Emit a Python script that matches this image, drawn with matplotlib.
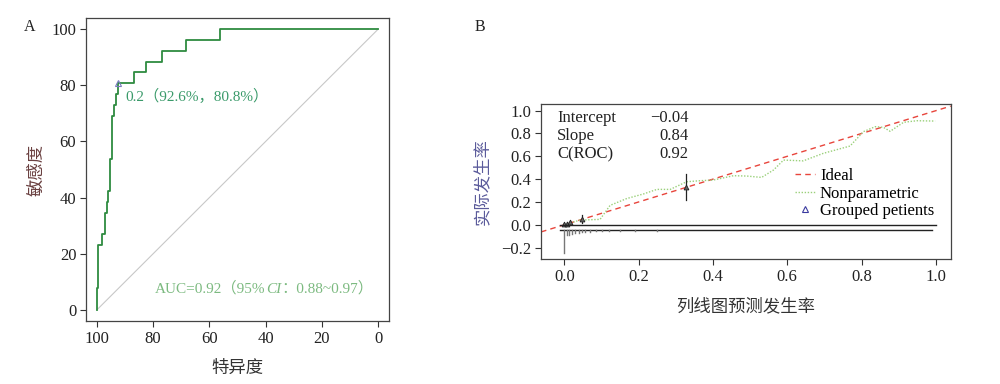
import numpy as np
import matplotlib
matplotlib.use("Agg")
import matplotlib.pyplot as plt
from matplotlib.lines import Line2D

plt.rcParams['font.family'] = ['Liberation Serif', 'Noto Sans CJK SC']

# ROC curve corners (specificity %, sensitivity %)
roc_spec = [100, 100, 99.76, 99.5, 98.3, 97.0, 96.3, 95.9, 95.2, 94.6, 93.9, 93.1,
            92.6, 86.8, 82.7, 77.0, 68.2, 56.4, 0]
roc_sens = [0, 7.7, 19.2, 23.1, 26.9, 34.6, 38.5, 42.3, 53.8, 69.2, 73.1, 76.9,
            80.8, 84.6, 88.5, 92.3, 96.2, 100, 100]
cut_spec, cut_sens = 92.6, 80.8
roc_ticks = [100, 80, 60, 40, 20, 0]

# calibration data
np_x = [0, 0.042, 0.096, 0.123, 0.168, 0.213, 0.249, 0.285, 0.329, 0.365, 0.401,
        0.455, 0.491, 0.531, 0.563, 0.59, 0.643, 0.697, 0.769, 0.805, 0.837,
        0.859, 0.877, 0.913, 0.949, 0.998]
np_y = [0, 0.041, 0.047, 0.17, 0.23, 0.27, 0.31, 0.31, 0.377, 0.386, 0.392,
        0.43, 0.427, 0.415, 0.48, 0.567, 0.56, 0.626, 0.69, 0.816, 0.86,
        0.854, 0.819, 0.898, 0.912, 0.909]
grp_x = [0.0, 0.006, 0.015, 0.047, 0.327]
grp_y = [0.003, 0.01, 0.02, 0.047, 0.327]
grp_lo = [0.0, 0.0, 0.008, 0.018, 0.216]
grp_hi = [0.01, 0.02, 0.035, 0.085, 0.444]
spike_x = [0.0, 0.007, 0.013, 0.021, 0.029, 0.038, 0.047, 0.056, 0.069, 0.085,
           0.1, 0.12, 0.15, 0.19, 0.25]
spike_h = [0.2, 0.04, 0.04, 0.033, 0.025, 0.02, 0.015, 0.012, 0.01, 0.008,
           0.006, 0.005, 0.004, 0.003, 0.002]
stat_names = ['Intercept', 'Slope', 'C(ROC)']
stat_vals = ['\u22120.04', '0.84', '0.92']
cal_ticks = [0.0, 0.2, 0.4, 0.6, 0.8, 1.0]
cal_yticks = [-0.2, 0.0, 0.2, 0.4, 0.6, 0.8, 1.0]

fig = plt.figure(figsize=(10, 3.84), dpi=100)

# ---------- panel A ----------
ax = fig.add_axes([0.086, 0.164, 0.303, 0.789])
ax.plot([100, 0], [0, 100], color='#c8c8c8', lw=0.8)
ax.plot(roc_spec, roc_sens, color='#2e8b40', lw=1.3, drawstyle='steps-post')
ax.plot([cut_spec], [cut_sens], marker='^', ms=4, mfc='none', mec='#7a7ac0', mew=0.8)
ax.text(90.0, 74.6, '0.2（92.6%，80.8%）', color='#3a9a6a', fontsize=11, va='baseline')
# AUC label built right-to-left so CI can be italic
t3 = ax.text(1.8, 6.0, '：0.88~0.97）', color='#7cba80', fontsize=11,
             ha='right', va='baseline')
t2 = ax.annotate('CI', xy=(0, 6.0), xycoords=(t3, 'data'), color='#7cba80',
                 fontsize=11, fontstyle='italic', ha='right', va='baseline')
ax.annotate('AUC=0.92（95%', xy=(0, 6.0), xycoords=(t2, 'data'), color='#7cba80',
            fontsize=11, ha='right', va='baseline')
ax.set_xlim(103.9, -3.9)
ax.set_ylim(-4, 104)
ax.set_xticks(roc_ticks)
ax.set_yticks(roc_ticks)
ax.tick_params(labelsize=12, length=4, width=0.8, color='#333333', labelcolor='#222222', pad=3)
for s in ax.spines.values():
    s.set_color('#444444')
    s.set_linewidth(0.9)
ax.set_xlabel('特异度', fontsize=12.5, color='#333333', labelpad=10)
ax.set_ylabel('敏感度', fontsize=12.5, color='#6a4040', labelpad=4)
fig.text(0.03, 0.93, 'A', fontsize=11.5, va='center', ha='center', color='#222222')

# ---------- panel B ----------
bx = fig.add_axes([0.541, 0.3247, 0.4097, 0.4037])
bx.axline((0, 0), slope=1, color='#e8453c', lw=1.0, ls=(0, (4, 3)))
bx.plot(np_x, np_y, color='#9ad07a', lw=1.0, ls=(0, (1, 1.2)))
for x, lo, hi in zip(grp_x, grp_lo, grp_hi):
    bx.plot([x, x], [lo, hi], color='#222222', lw=0.9)
bx.plot(grp_x, grp_y, ls='none', marker='^', ms=3.5, mfc='#666666', mec='#222222', mew=0.6)
bx.plot([-0.012, 1.0], [0, 0], color='#222222', lw=1.0)
bx.plot([-0.012, 0.99], [-0.05, -0.05], color='#222222', lw=1.0)
for x, h in zip(spike_x, spike_h):
    bx.plot([x, x], [-0.05, -0.05 - h], color='#777777', lw=1.0)
for i, (n, v) in enumerate(zip(stat_names, stat_vals)):
    y = 0.933 - i * 0.158
    bx.text(-0.02, y, n, fontsize=12, va='center', color='#222222')
    bx.text(0.335, y, v, fontsize=12, va='center', ha='right', color='#222222')
handles = [Line2D([], [], color='#e8453c', lw=1.0, ls=(0, (4, 3))),
           Line2D([], [], color='#9ad07a', lw=1.0, ls=(0, (1, 1.2))),
           Line2D([], [], ls='none', marker='^', ms=4, mfc='none', mec='#3a3aa0', mew=0.8)]
bx.legend(handles, ['Ideal', 'Nonparametric', 'Grouped petients'], loc='upper left',
          bbox_to_anchor=(0.62, 0.59), frameon=False, fontsize=12, handlelength=1.2,
          handletextpad=0.3, labelspacing=0.1, borderpad=0, borderaxespad=0)
bx.set_xlim(-0.063, 1.04)
bx.set_ylim(-0.303, 1.056)
bx.set_xticks(cal_ticks)
bx.set_xticklabels(['%.1f' % t for t in cal_ticks])
bx.set_yticks(cal_yticks)
bx.set_yticklabels([('%.1f' % t).replace('-', '\u2212') for t in cal_yticks])
bx.tick_params(labelsize=12, length=4, width=0.8, color='#333333', labelcolor='#222222', pad=3)
for s in bx.spines.values():
    s.set_color('#444444')
    s.set_linewidth(0.9)
bx.set_xlabel('列线图预测发生率', fontsize=12.5, color='#333333', labelpad=10)
bx.set_ylabel('实际发生率', fontsize=12.5, color='#5a5a9a', labelpad=7)
fig.text(0.48, 0.93, 'B', fontsize=11.5, va='center', ha='center', color='#222222')

fig.savefig('out.png', dpi=100)
